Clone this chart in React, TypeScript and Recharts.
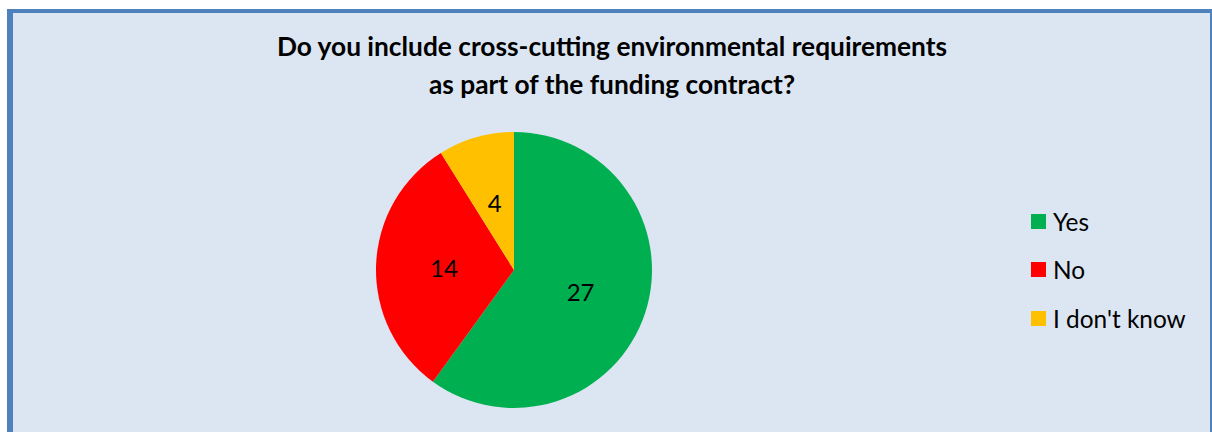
import React from 'react';
import { PieChart, Pie, Cell, Legend } from 'recharts';

const categories = ['Yes', 'No', "I don't know"];
const values = [27, 14, 4];
const colors = ['#00B050', '#FF0000', '#FFC000'];
const titleLines = ['Do you include cross-cutting environmental requirements', 'as part of the funding contract?'];

const data = categories.map((name, i) => ({ name, value: values[i] }));

const FONT = 'Lato, "Open Sans", sans-serif';
const RAD = Math.PI / 180;

const renderLabel = (props: any) => {
  const { cx, cy, midAngle, value } = props;
  const r = 70;
  const x = cx + r * Math.cos(-midAngle * RAD);
  const y = cy + r * Math.sin(-midAngle * RAD);
  return (
    <text x={x} y={y} fill="#000" textAnchor="middle" dominantBaseline="central" fontSize={24} fontFamily={FONT}>
      {value}
    </text>
  );
};

const renderLegend = () => (
  <div style={{ fontFamily: FONT }}>
    {categories.map((c, i) => (
      <div key={c} style={{ display: 'flex', alignItems: 'center', height: 48.5 }}>
        <div style={{ width: 15, height: 15, background: colors[i], marginRight: 7 }} />
        <span style={{ fontSize: 24.4, color: '#000' }}>{c}</span>
      </div>
    ))}
  </div>
);

export default function App() {
  return (
    <div style={{ position: 'absolute', left: 0, top: 0, width: 1212, height: 432, background: '#fff', overflow: 'hidden' }}>
      <div
        style={{
          position: 'absolute',
          left: 7,
          top: 9,
          width: 1212 - 7 - 6 - 2,
          height: 440,
          background: '#DCE6F2',
          borderLeft: '6px solid #4F81BD',
          borderTop: '4px solid #4F81BD',
          borderRight: '2px solid #4F81BD',
        }}
      />
      <div
        style={{
          position: 'absolute',
          left: 0,
          top: 27,
          width: 1224,
          textAlign: 'center',
          fontFamily: FONT,
          fontWeight: 'bold',
          fontSize: 26.3,
          lineHeight: '38px',
          color: '#000',
        }}
      >
        {titleLines.map((l) => (
          <div key={l}>{l}</div>
        ))}
      </div>
      <div style={{ position: 'absolute', left: 0, top: 0 }}>
        <PieChart width={1212} height={432} margin={{ top: 0, right: 0, bottom: 0, left: 0 }}>
          <Pie
            data={data}
            dataKey="value"
            nameKey="name"
            cx={514}
            cy={270}
            outerRadius={138}
            startAngle={90}
            endAngle={-270}
            stroke="none"
            label={renderLabel}
            labelLine={false}
            isAnimationActive={false}
          >
            {data.map((d, i) => (
              <Cell key={d.name} fill={colors[i]} />
            ))}
          </Pie>
          <Legend
            content={renderLegend}
            layout="vertical"
            wrapperStyle={{ position: 'absolute', left: 1031, top: 197, width: 180 }}
          />
        </PieChart>
      </div>
    </div>
  );
}
